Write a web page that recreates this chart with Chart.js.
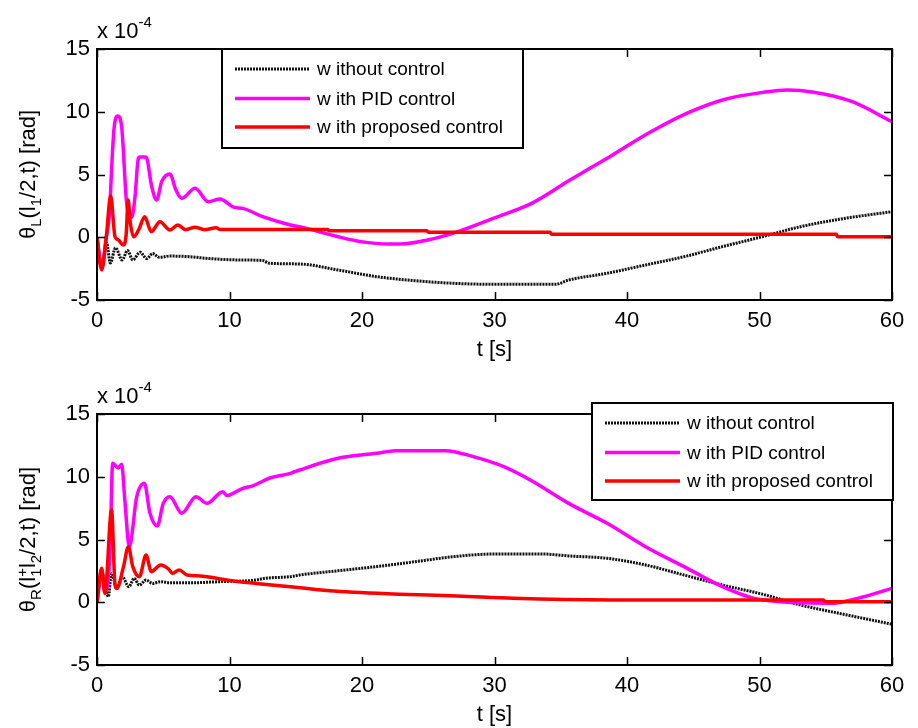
<!DOCTYPE html>
<html><head><meta charset="utf-8">
<script src="https://cdn.jsdelivr.net/npm/chart.js@4.4.1/dist/chart.umd.min.js"></script>
<style>
html,body{margin:0;padding:0;background:#fff;overflow:hidden;width:918px;height:728px}
#c1{position:absolute;left:0;top:0}
#c2{position:absolute;left:0;top:365px}
</style></head><body>
<canvas id="c1" width="918" height="364"></canvas>
<canvas id="c2" width="918" height="363"></canvas>
<script>
// ---------- data (values in units of 1e-4 rad) ----------
const xTicks = [0, 10, 20, 30, 40, 50, 60];
const yTicks = [-5, 0, 5, 10, 15];
const seriesLabels = ["w ithout control", "w ith PID control", "w ith proposed control"];
const xTitle = "t [s]";

// Top plot: theta_L(l1/2,t)
const topNoCtrlT = [0,0.35,0.73,1.0,1.4,1.9,2.3,2.7,3.25,3.75,4.2,4.7,5.5,7,8.5,10.8,12.5,13,15.3,18.2,21.1,24,26.9,29.9,34.6,35.6,38.5,41.4,44.3,47.2,50.2,53.1,56,60];
const topNoCtrlV = [0,-2.4,-0.46,-2.05,-0.85,-1.81,-1.06,-1.8,-1.2,-1.7,-1.3,-1.6,-1.5,-1.55,-1.7,-1.81,-1.85,-2.07,-2.13,-2.61,-3.14,-3.46,-3.67,-3.75,-3.75,-3.41,-2.87,-2.21,-1.55,-0.75,0.04,0.84,1.43,2.04];

const topPidT = [0,0.35,0.7,0.95,1.1,1.28,1.56,1.86,2.24,2.62,2.87,3.12,3.25,3.7,4.13,4.5,4.88,5.5,5.96,6.39,7.4,8.4,9.28,10.3,11.0,12.5,14.6,15.3,18.2,19.9,22.0,22.9,24.95,27.0,29.9,32.8,35.7,38.7,41.6,44.5,47.4,50.3,52.1,54.1,57.0,60];
const topPidV = [0,-2.5,0,2,5.4,8.6,9.66,8.8,2.7,1.6,3.23,6.29,6.4,6.4,4.03,2.97,4.43,5.04,3.76,3.1,3.9,2.83,3.05,2.4,2.3,1.64,0.98,0.84,0.04,-0.35,-0.54,-0.54,-0.22,0.37,1.51,2.7,4.56,6.42,8.28,9.87,11.0,11.55,11.73,11.55,10.8,9.2];

const topPropT = [0,0.35,0.7,1.03,1.36,1.6,1.97,2.2,2.35,2.52,2.77,3.15,3.6,4.1,4.75,5.5,6.1,6.7,7.4,8.1,9.0,9.3,17.4,17.5,24.9,25.0,34.2,34.3,55.8,55.9,60];
const topPropV = [0,-2.6,0,3.3,0.04,-0.2,-0.62,0.2,2.97,1.1,0.04,0.6,1.64,0.44,1.24,0.58,0.98,0.6,0.8,0.6,0.75,0.62,0.62,0.52,0.52,0.39,0.39,0.23,0.23,0.04,0.04];

// Bottom plot: theta_R(l1+l2/2,t)
const botNoCtrlT = [0,0.35,0.6,0.85,1.1,1.5,1.9,2.4,2.8,3.2,3.7,4.2,4.8,5.5,7,9.5,12,12.6,14.6,15.3,18.2,21.1,24,26.9,29.9,33.7,35.6,38.5,41.4,44.3,47.2,50.2,53.1,56,60];
const botNoCtrlV = [0,2.4,1.64,0.44,2.3,1.1,2.04,1.24,1.9,1.37,1.77,1.5,1.64,1.55,1.55,1.65,1.77,1.9,2.04,2.17,2.51,2.84,3.23,3.63,3.84,3.84,3.69,3.5,2.97,2.17,1.37,0.65,-0.22,-0.88,-1.75];

const botPidT = [0,0.35,0.6,0.98,1.18,1.6,1.86,2.1,2.44,3.0,3.57,4.0,4.55,5.0,5.5,6.4,7.47,8.3,9.5,9.8,11.0,11.8,13.0,14.6,15.3,18.2,21.1,22.5,26.3,28.4,30.7,32.7,35.6,38.5,41.4,44.3,47.2,49.6,52.5,55.4,57.4,60];
const botPidV = [0,2.5,0.8,4.0,11.07,10.7,11.0,8.15,4.43,8.41,9.48,7.09,6.08,7.88,8.41,7.09,8.41,7.88,8.81,8.5,9.08,9.3,9.88,10.27,10.54,11.47,11.87,12.08,12.08,11.6,10.8,9.74,7.88,6.29,4.43,2.84,1.24,0.31,-0.03,-0.08,0.31,1.1];

const botPropT = [0,0.35,0.6,1.1,1.36,1.5,2.0,2.37,2.7,3.2,3.7,4.1,4.8,5.4,5.7,6.2,6.8,7.8,9.1,10.3,12.0,14.6,16.2,17.9,19.9,22.8,27.2,31.4,38.8,54.8,55.0,60];
const botPropV = [0,2.7,0.7,7.35,1.4,1.1,2.84,4.43,2.84,2.04,3.76,2.44,2.97,2.65,2.3,2.57,2.17,2.1,1.9,1.7,1.5,1.24,1.06,0.9,0.77,0.64,0.5,0.31,0.18,0.18,0.04,0.04];

// ---------- helpers ----------
const FONT = "'Liberation Sans', Arial, Helvetica, sans-serif";
Chart.defaults.font.family = FONT;
Chart.defaults.color = '#000';

function pts(T, V) { return T.map((t, i) => ({ x: t, y: V[i] })); }

function makeDatasets(nT, nV, pT, pV, rT, rV) {
  const common = { pointRadius: 0, cubicInterpolationMode: 'monotone', borderJoinStyle: 'round' };
  return [
    Object.assign({ label: seriesLabels[0], data: pts(nT, nV), borderColor: '#111', borderWidth: 3, borderDash: [2, 1], order: 2 }, common),
    Object.assign({ label: seriesLabels[1], data: pts(pT, pV), borderColor: '#ff00ff', borderWidth: 3.5, order: 1 }, common),
    Object.assign({ label: seriesLabels[2], data: pts(rT, rV), borderColor: '#ff0000', borderWidth: 3.5, order: 0 }, common)
  ];
}

function drawPieces(ctx, pieces, x0, y0) {
  let x = x0;
  for (const p of pieces) {
    ctx.font = p.size + 'px ' + FONT;
    ctx.fillText(p.t, x, y0 + (p.dy || 0));
    if (!p.noAdvance) x += ctx.measureText(p.t).width;
  }
}
function piecesWidth(ctx, pieces) {
  let w = 0;
  for (const p of pieces) { ctx.font = p.size + 'px ' + FONT; if (!p.noAdvance) w += ctx.measureText(p.t).width; }
  return w;
}

const framePlugin = {
  id: 'frame',
  afterDatasetsDraw(chart, args, opts) {
    const ctx = chart.ctx, a = chart.chartArea;
    const xs = chart.scales.x, ys = chart.scales.y;
    ctx.save();
    ctx.strokeStyle = '#000'; ctx.lineWidth = 2;
    ctx.strokeRect(a.left, a.top, a.right - a.left, a.bottom - a.top);
    ctx.lineWidth = 1.5;
    ctx.beginPath();
    for (const v of xTicks) {
      const px = Math.round(xs.getPixelForValue(v)) + 0.5;
      ctx.moveTo(px, a.bottom); ctx.lineTo(px, a.bottom - 8);
      ctx.moveTo(px, a.top); ctx.lineTo(px, a.top + 8);
    }
    for (const v of yTicks) {
      const py = Math.round(ys.getPixelForValue(v)) + 0.5;
      ctx.moveTo(a.left, py); ctx.lineTo(a.left + 8, py);
      ctx.moveTo(a.right, py); ctx.lineTo(a.right - 8, py);
    }
    ctx.stroke();

    // legend box
    const L = opts.legend;
    ctx.fillStyle = '#fff';
    ctx.fillRect(L.x, L.y, L.w, L.h);
    ctx.lineWidth = 2; ctx.strokeStyle = '#000';
    ctx.strokeRect(L.x, L.y, L.w, L.h);
    const rows = [20, 49.5, 78];
    chart.data.datasets.forEach((ds, i) => {
      const ry = L.y + rows[i];
      ctx.beginPath();
      ctx.strokeStyle = ds.borderColor; ctx.lineWidth = ds.borderWidth;
      ctx.setLineDash(ds.borderDash || []);
      ctx.moveTo(L.x + 13, ry); ctx.lineTo(L.x + 88, ry); ctx.stroke();
      ctx.setLineDash([]);
      ctx.fillStyle = '#000'; ctx.font = '19px ' + FONT;
      ctx.textAlign = 'left'; ctx.textBaseline = 'middle';
      ctx.fillText(ds.label, L.x + 95, ry + 1);
    });

    // exponent label
    ctx.fillStyle = '#000'; ctx.textBaseline = 'alphabetic'; ctx.textAlign = 'left';
    drawPieces(ctx, [{ t: 'x 10', size: 22 }, { t: '-4', size: 15, dy: -11 }], a.left, a.top - 11);

    // x title
    ctx.font = '22px ' + FONT; ctx.textAlign = 'center'; ctx.textBaseline = 'middle';
    ctx.fillText(xTitle, (a.left + a.right) / 2, a.bottom + 50);

    // y title (rotated, with subscripts)
    ctx.save();
    ctx.translate(opts.yTitleX, (a.top + a.bottom) / 2);
    ctx.rotate(-Math.PI / 2);
    ctx.textAlign = 'left'; ctx.textBaseline = 'alphabetic';
    const w = piecesWidth(ctx, opts.yPieces);
    drawPieces(ctx, opts.yPieces, -w / 2, 0);
    ctx.restore();
    ctx.restore();
  }
};

function makeChart(id, datasets, xAxisH, legend, yPieces) {
  return new Chart(document.getElementById(id), {
    type: 'line',
    data: { datasets },
    options: {
      responsive: false, animation: false, maintainAspectRatio: false,
      layout: { padding: { top: 49, right: 26, left: 0, bottom: 0 } },
      plugins: { legend: { display: false }, tooltip: { enabled: false },
        frame: { legend, yPieces, yTitleX: 35 } },
      scales: {
        x: { type: 'linear', min: 0, max: 60,
             afterBuildTicks: s => { s.ticks = xTicks.map(v => ({ value: v })); },
             afterFit: s => { s.height = xAxisH; },
             grid: { display: false, drawTicks: false }, border: { display: false },
             ticks: { font: { size: 22 }, color: '#000', padding: 8, maxRotation: 0 } },
        y: { type: 'linear', min: -5, max: 15,
             afterBuildTicks: s => { s.ticks = yTicks.map(v => ({ value: v })); },
             afterFit: s => { s.width = 97; },
             grid: { display: false, drawTicks: false }, border: { display: false },
             ticks: { font: { size: 22 }, color: '#000', padding: 7 } }
      }
    },
    plugins: [framePlugin]
  });
}

makeChart('c1', makeDatasets(topNoCtrlT, topNoCtrlV, topPidT, topPidV, topPropT, topPropV), 64,
  { x: 222, y: 49, w: 301, h: 99 },
  [{ t: 'θ', size: 22 }, { t: 'L', size: 15, dy: 6 }, { t: '(l', size: 22 }, { t: '1', size: 15, dy: 6 }, { t: '/2,t) [rad]', size: 22 }]);

makeChart('c2', makeDatasets(botNoCtrlT, botNoCtrlV, botPidT, botPidV, botPropT, botPropV), 63,
  { x: 592, y: 38, w: 301, h: 97 },
  [{ t: 'θ', size: 22 }, { t: 'R', size: 15, dy: 6 }, { t: '(l', size: 22 }, { t: '1', size: 15, dy: 6, noAdvance: true }, { t: '+', size: 15, dy: -8 }, { t: 'l', size: 22 }, { t: '2', size: 15, dy: 6 }, { t: '/2,t) [rad]', size: 22 }]);
</script></body></html>
